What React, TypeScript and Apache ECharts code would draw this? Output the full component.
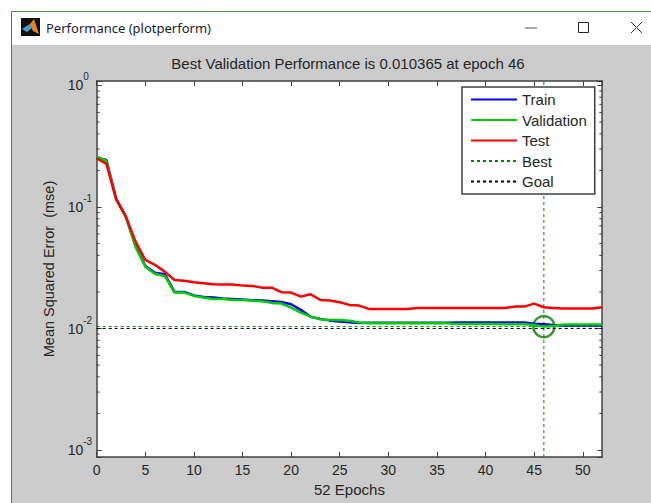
import React, { useEffect, useRef } from "react";
import * as echarts from "echarts";

const trainValues = [0.2535,0.244,0.1166,0.0834,0.0477,0.0327,0.0288,0.028,0.02,0.02,0.01872,0.0182,0.01803,0.0177,0.01752,0.0173,0.0171,0.017,0.01678,0.01655,0.01585,0.01423,0.0125,0.012,0.01161,0.0114,0.01127,0.01112,0.01116,0.01116,0.01116,0.01116,0.01116,0.01116,0.01116,0.01116,0.01116,0.01119,0.01119,0.01119,0.01119,0.01119,0.01119,0.01119,0.01119,0.01097,0.01085,0.0107,0.0106,0.0106,0.0106,0.0106,0.0106];
const validationValues = [0.26,0.24,0.1166,0.083,0.0469,0.0323,0.0281,0.0271,0.01974,0.01974,0.01855,0.01796,0.01752,0.01752,0.0172,0.0172,0.01697,0.01678,0.01625,0.01603,0.01486,0.01352,0.01253,0.01193,0.01177,0.01177,0.01161,0.01119,0.01106,0.01106,0.01106,0.01106,0.01106,0.01106,0.01106,0.01106,0.01106,0.01091,0.01091,0.01091,0.01091,0.01091,0.01085,0.01085,0.01085,0.0107,0.010365,0.0105,0.0108,0.0108,0.0108,0.0108,0.0108];
const testValues = [0.252,0.2263,0.116,0.0834,0.0519,0.0367,0.0334,0.0294,0.0251,0.0247,0.024,0.0236,0.0231,0.023,0.023,0.02254,0.0224,0.0217,0.0217,0.0199,0.01974,0.0183,0.01915,0.0172,0.01697,0.01646,0.01564,0.01543,0.0145,0.0145,0.0145,0.0145,0.0145,0.01478,0.01478,0.01478,0.01478,0.01478,0.01478,0.01478,0.01478,0.01478,0.01478,0.01514,0.01514,0.01603,0.01497,0.01478,0.01458,0.01458,0.01458,0.01458,0.01497];
const legendNames = ["Train", "Validation", "Test", "Best", "Goal"];
const bestEpoch = 46;
const bestValue = 0.010365;
const goalValue = 0.01;
const xMax = 52;
const yMin = 0.000876;
const yMax = 1.089;
const minorValues = [0.002,0.003,0.004,0.005,0.006,0.007,0.008,0.009,0.02,0.03,0.04,0.05,0.06,0.07,0.08,0.09,0.2,0.3,0.4,0.5,0.6,0.7,0.8,0.9];

const FONT = "Liberation Sans";
const INK = "#262626";
const AXIS = "#404040";
const pairs = (vals: number[]) => vals.map((v, i) => [i, v]);

export default function App() {
  const ref = useRef<HTMLDivElement>(null);
  useEffect(() => {
    const chart = echarts.init(ref.current!, null, { renderer: "svg" });
    const yFormatter = (v: number) => {
      const e = Math.log10(v);
      const r = Math.round(e);
      return Math.abs(e - r) < 1e-6 ? `{b|10}{s|${r}}` : "";
    };
    const lineBase = { type: "line" as const, symbol: "none", showSymbol: false, silent: true, clip: false };
    chart.setOption({
      animation: false,
      backgroundColor: "#ffffff",
      title: {
        text: "Best Validation Performance is 0.010365 at epoch 46",
        left: 343, top: 51, textAlign: "center",
        textStyle: { fontFamily: FONT, fontSize: 15, fontWeight: "normal", color: INK },
      },
      grid: { left: 96.7, top: 81, width: 505.5, height: 376, show: true, backgroundColor: "#ffffff", borderWidth: 0 },
      legend: {
        data: legendNames, left: 462, top: 87, orient: "vertical", align: "left",
        padding: [5, 8, 5, 8], itemWidth: 46, itemHeight: 15, itemGap: 5.5,
        backgroundColor: "#ffffff", borderColor: AXIS, borderWidth: 1.5, borderRadius: 0,
        selectedMode: false,
        itemStyle: { color: "transparent", borderColor: "transparent", borderWidth: 0, opacity: 0 },
        textStyle: { fontFamily: FONT, fontSize: 15, color: INK, padding: [0, 0, 0, 0] },
      },
      xAxis: [
        {
          type: "value", min: 0, max: xMax, interval: 5, position: "bottom",
          name: "52 Epochs", nameLocation: "middle", nameGap: 22,
          nameTextStyle: { fontFamily: FONT, fontSize: 15, color: INK },
          axisLine: { show: true, onZero: false, lineStyle: { color: AXIS, width: 1.5 } },
          axisTick: { inside: true, length: 5, lineStyle: { color: AXIS } },
          axisLabel: { fontFamily: FONT, fontSize: 14, color: INK, margin: 6, showMaxLabel: false },
          splitLine: { show: false },
        },
        {
          type: "value", min: 0, max: xMax, interval: 5, position: "top",
          axisLine: { show: true, onZero: false, lineStyle: { color: AXIS, width: 1.5 } },
          axisTick: { inside: true, length: 5, lineStyle: { color: AXIS } },
          axisLabel: { show: false }, splitLine: { show: false },
        },
      ],
      yAxis: [
        {
          type: "log", logBase: 10, min: yMin, max: yMax, position: "left",
          name: "Mean Squared Error  (mse)", nameLocation: "middle", nameGap: 39,
          nameTextStyle: { fontFamily: FONT, fontSize: 14.5, color: INK },
          axisLine: { show: true, onZero: false, lineStyle: { color: AXIS, width: 1.5 } },
          axisTick: { inside: true, length: 5, lineStyle: { color: AXIS } },
          axisLabel: {
            margin: 29, align: "left", formatter: yFormatter,
            rich: {
              b: { fontFamily: FONT, fontSize: 14, color: INK },
              s: { fontFamily: FONT, fontSize: 10, color: INK, padding: [0, 0, 17, 0] },
            },
          },
          splitLine: { show: false }, minorTick: { show: false },
        },
        {
          type: "log", logBase: 10, min: yMin, max: yMax, position: "right",
          axisLine: { show: true, onZero: false, lineStyle: { color: AXIS, width: 1.5 } },
          axisTick: { inside: true, length: 5, lineStyle: { color: AXIS } },
          axisLabel: { show: false }, splitLine: { show: false },
        },
      ],
      series: [
        {
          type: "custom", silent: true, clip: false, z: 1,
          data: minorValues.map((v) => [0, v]),
          renderItem: (_p: any, api: any) => {
            const v = api.value(1);
            const l = api.coord([0, v]);
            const r = api.coord([xMax, v]);
            const style = { stroke: AXIS, lineWidth: 1 };
            return {
              type: "group",
              children: [
                { type: "line", shape: { x1: l[0], y1: l[1], x2: l[0] + 3, y2: l[1] }, style },
                { type: "line", shape: { x1: r[0], y1: r[1], x2: r[0] - 3, y2: r[1] }, style },
              ],
            };
          },
        },
        { ...lineBase, name: "Best", data: [[0, bestValue], [xMax, bestValue]], lineStyle: { color: "#008000", width: 1, type: [3, 3] }, itemStyle: { color: "#008000" } },
        { ...lineBase, name: "Best", data: [[bestEpoch, yMin], [bestEpoch, yMax]], lineStyle: { color: "#008000", width: 1, type: [3, 3] }, itemStyle: { color: "#008000" } },
        { ...lineBase, name: "Goal", data: [[0, goalValue], [xMax, goalValue]], lineStyle: { color: "#000000", width: 1, type: [3, 3] }, itemStyle: { color: "#000000" } },
        { ...lineBase, name: "Train", data: pairs(trainValues), lineStyle: { color: "#0000ff", width: 2.5 }, itemStyle: { color: "#0000ff" } },
        { ...lineBase, name: "Validation", data: pairs(validationValues), lineStyle: { color: "#00cc00", width: 2.5 }, itemStyle: { color: "#00cc00" } },
        { ...lineBase, name: "Test", data: pairs(testValues), lineStyle: { color: "#ff0000", width: 2.5 }, itemStyle: { color: "#ff0000" } },
        {
          type: "scatter", silent: true, clip: false, symbol: "circle", symbolSize: 21,
          data: [[bestEpoch, bestValue]],
          itemStyle: { color: "transparent", borderColor: "#007a00", borderWidth: 2.5 },
        },
      ],
      graphic: [
        { type: "rect", z: -10, shape: { x: 12, y: 45, width: 639, height: 458 }, style: { fill: "#cccccc" } },
        { type: "line", z: -9, shape: { x1: 11.5, y1: 11.5, x2: 651, y2: 11.5 }, style: { stroke: "#4d8a3f", lineWidth: 1 } },
        { type: "line", z: -9, shape: { x1: 11.5, y1: 11.5, x2: 11.5, y2: 503 }, style: { stroke: "#4d8a3f", lineWidth: 1 } },
        { type: "rect", z: -9, shape: { x: 21, y: 18, width: 19, height: 18 }, style: { fill: "#111111" } },
        { type: "polygon", z: -8, shape: { points: [[22, 29], [30, 24], [32, 28], [27, 32]] }, style: { fill: "#45a5c8" } },
        { type: "polygon", z: -8, shape: { points: [[30, 24], [34, 19], [39, 34], [33, 31]] }, style: { fill: "#e8832a" } },
        { type: "text", z: -8, x: 46, y: 28, style: { text: "Performance (plotperform)", font: "13px 'Noto Sans'", fill: "#1a1a2e", verticalAlign: "middle" } },
        { type: "line", z: -8, shape: { x1: 525, y1: 28, x2: 537, y2: 28 }, style: { stroke: "#555555", lineWidth: 1 } },
        { type: "rect", z: -8, shape: { x: 578.5, y: 22.5, width: 10, height: 10 }, style: { fill: "none", stroke: "#222222", lineWidth: 1 } },
        { type: "line", z: -8, shape: { x1: 631, y1: 22, x2: 642, y2: 33 }, style: { stroke: "#333333", lineWidth: 1 } },
        { type: "line", z: -8, shape: { x1: 642, y1: 22, x2: 631, y2: 33 }, style: { stroke: "#333333", lineWidth: 1 } },
      ],
    });
    return () => chart.dispose();
  }, []);
  return <div ref={ref} style={{ position: "fixed", left: 0, top: 0, width: 651, height: 503 }} />;
}
